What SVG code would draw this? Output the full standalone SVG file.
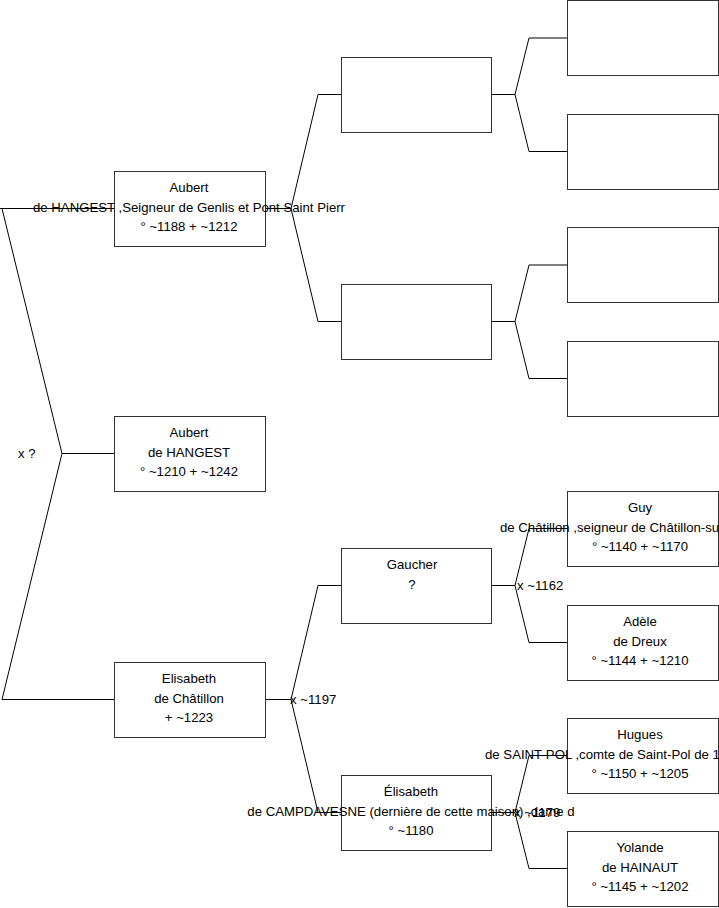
<svg xmlns="http://www.w3.org/2000/svg" width="719" height="908" viewBox="0 0 719 908">
<style>
.box{fill:#fff;stroke:#333;stroke-width:1}
.c{fill:none;stroke:#000;stroke-width:1}
text{font-family:"Liberation Sans",Arial,sans-serif;font-size:13.2px;fill:#000}
.m{text-anchor:middle}
</style>
<rect width="719" height="908" fill="#fff"/>
<g id="connectors">
<path class="c" d="M0,208.5H114.5M2,208.5L62,453.5L2,699.5H114.5M62,453.5H114.5"/>
<path class="c" d="M265.5,208.5H291L318,94.5H341.5M291,208.5L318,321.5H341.5"/>
<path class="c" d="M265.5,699.5H291L318,585.5H341.5M291,699.5L318,812.5H341.5"/>
<path class="c" d="M491.5,94.5H515L529,38H567.5M515,94.5L529,151.5H567.5"/>
<path class="c" d="M491.5,321.5H515L529,265H567.5M515,321.5L529,378.5H567.5"/>
<path class="c" d="M491.5,585.5H515L529,528.5H567.5M515,585.5L529,642.5H567.5"/>
<path class="c" d="M491.5,812.5H515L529,755.5H567.5M515,812.5L529,868.5H567.5"/>
</g>
<g id="labels">
<text x="18" y="458">x ?</text>
<text x="290" y="704">x ~1197</text>
<text x="517" y="590">x ~1162</text>
<text x="514" y="817">x ~1179</text>
</g>
<g id="n1"><rect class="box" x="114.5" y="171.5" width="151" height="75"/>
<text class="m" x="189" y="192">Aubert</text><text class="m" x="189" y="211.5">de HANGEST ,Seigneur de Genlis et Pont Saint Pierr</text><text class="m" x="189" y="231">° ~1188 + ~1212</text></g>
<g id="n2"><rect class="box" x="114.5" y="416.5" width="151" height="75"/>
<text class="m" x="189" y="437">Aubert</text><text class="m" x="189" y="456.5">de HANGEST</text><text class="m" x="189" y="476">° ~1210 + ~1242</text></g>
<g id="n3"><rect class="box" x="114.5" y="662.5" width="151" height="75"/>
<text class="m" x="189" y="683">Elisabeth</text><text class="m" x="189" y="702.5">de Châtillon</text><text class="m" x="189" y="722">+ ~1223</text></g>
<g id="n4"><rect class="box" x="341.5" y="57.5" width="150" height="75"/></g>
<g id="n5"><rect class="box" x="341.5" y="284.5" width="150" height="75"/></g>
<g id="n6"><rect class="box" x="341.5" y="548.5" width="150" height="75"/>
<text class="m" x="412" y="569">Gaucher</text><text class="m" x="412" y="588.5">?</text></g>
<g id="n7"><rect class="box" x="341.5" y="775.5" width="150" height="75"/>
<text class="m" x="411" y="796">Élisabeth</text><text class="m" x="411" y="815.5">de CAMPDAVESNE (dernière de cette maison) ,dame d</text><text class="m" x="411" y="835">° ~1180</text></g>
<g id="n8"><rect class="box" x="567.5" y="0.5" width="151" height="75"/></g>
<g id="n9"><rect class="box" x="567.5" y="114.5" width="151" height="75"/></g>
<g id="n10"><rect class="box" x="567.5" y="227.5" width="151" height="75"/></g>
<g id="n11"><rect class="box" x="567.5" y="341.5" width="151" height="75"/></g>
<g id="n12"><rect class="box" x="567.5" y="491.5" width="151" height="75"/>
<text class="m" x="640" y="512">Guy</text><text x="500" y="531.5">de Châtillon ,seigneur de Châtillon-su</text><text class="m" x="640" y="551">° ~1140 + ~1170</text></g>
<g id="n13"><rect class="box" x="567.5" y="605.5" width="151" height="75"/>
<text class="m" x="640" y="626">Adèle</text><text class="m" x="640" y="645.5">de Dreux</text><text class="m" x="640" y="665">° ~1144 + ~1210</text></g>
<g id="n14"><rect class="box" x="567.5" y="718.5" width="151" height="75"/>
<text class="m" x="640" y="739">Hugues</text><text x="485" y="758.5">de SAINT-POL ,comte de Saint-Pol de 1</text><text class="m" x="640" y="778">° ~1150 + ~1205</text></g>
<g id="n15"><rect class="box" x="567.5" y="831.5" width="151" height="75"/>
<text class="m" x="640" y="852">Yolande</text><text class="m" x="640" y="871.5">de HAINAUT</text><text class="m" x="640" y="891">° ~1145 + ~1202</text></g>
</svg>
